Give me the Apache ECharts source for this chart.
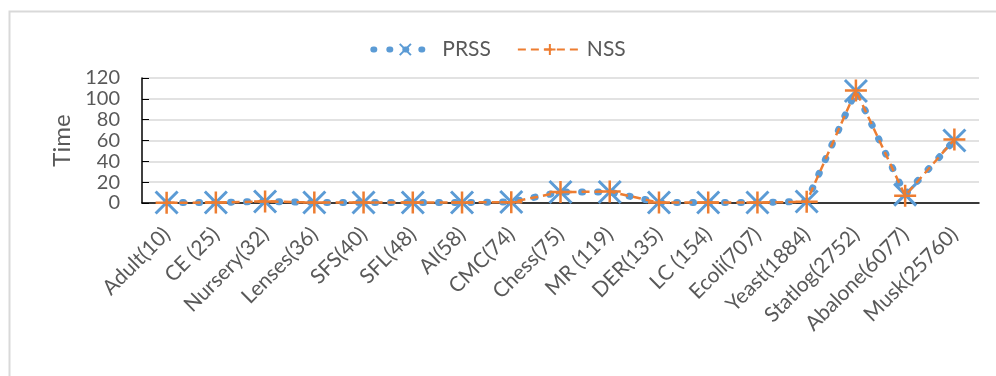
<!DOCTYPE html>
<html>
<head>
<meta charset="utf-8">
<script src="https://cdn.jsdelivr.net/npm/echarts@6/dist/echarts.min.js"></script>
<style>
html,body{margin:0;padding:0;background:#fff;}
#chart{width:996px;height:376px;}
</style>
</head>
<body>
<div id="chart"></div>
<script>
var categories = ['Adult(10)','CE (25)','Nursery(32)','Lenses(36)','SFS(40)','SFL(48)','AI(58)','CMC(74)','Chess(75)','MR (119)','DER(135)','LC (154)','Ecoli(707)','Yeast(1884)','Statlog(2752)','Abalone(6077)','Musk(25760)'];
var prss = [0.5,0.5,1.5,0.5,0.5,0.5,0.5,1,10.5,10.5,0.5,0.5,0.5,1.5,107.5,8,60];
var nss  = [0.3,0.4,1.5,0.4,0.4,0.4,0.5,0.8,10.5,11,0.4,0.4,0.4,1.2,108,7,61];
var yTicks = [0,20,40,60,80,100,120];

var FONT = 'Lato, "Open Sans", sans-serif';
var TXT = '#595959';
var BLUE = '#5B9BD5';
var ORANGE = '#ED7D31';

var chart = echarts.init(document.getElementById('chart'), null, {renderer:'canvas'});
chart.setOption({
  animation:false,
  backgroundColor:'#fff',
  graphic:[{
    type:'rect', left:7, top:9, silent:true,
    shape:{x:0,y:0,width:1100,height:500},
    style:{fill:'none', stroke:'#d9d9d9', lineWidth:2}
  }],
  legend:{
    top:34, left:'center',
    itemGap:26,
    itemHeight:14,
    textStyle:{fontFamily:FONT, fontSize:21, color:TXT},
    data:[
      {name:'PRSS', itemWidth:70, lineStyle:{width:6, cap:'round', type:[1,15]}},
      {name:'NSS', itemWidth:62}
    ],
    itemWidth:64
  },
  grid:{left:142, right:17, top:78, bottom:173, containLabel:false},
  xAxis:{
    type:'category',
    data:categories,
    boundaryGap:true,
    axisLine:{lineStyle:{color:'#000', width:1.5}},
    axisTick:{inside:true, length:8, lineStyle:{color:'#000', width:1}},
    axisLabel:{rotate:45, interval:0, margin:28, fontFamily:FONT, fontSize:21, color:TXT}
  },
  yAxis:{
    type:'value', min:0, max:120, interval:20,
    name:'Time', nameLocation:'middle', nameGap:68,
    nameTextStyle:{fontFamily:FONT, fontSize:24, color:TXT},
    axisLine:{show:true, lineStyle:{color:'#000', width:1.5}},
    axisTick:{show:true, inside:true, length:7, lineStyle:{color:'#000'}},
    axisLabel:{margin:22, fontFamily:FONT, fontSize:20, color:TXT,
      formatter:function(v){return yTicks.indexOf(v)>=0?String(v):'';}},
    splitLine:{lineStyle:{color:'#d9d9d9', width:1.5}}
  },
  series:[{
    name:'PRSS', type:'line', data:prss,
    symbol:'path://M0,0L20,20M20,0L0,20', symbolSize:22,
    itemStyle:{color:BLUE, borderColor:BLUE, borderWidth:3},
    lineStyle:{color:BLUE, width:7, type:[1,15], cap:'round'},
    emphasis:{disabled:true}, z:2
  },{
    name:'NSS', type:'line', data:nss,
    symbol:'path://M10,0L10,20M0,10L20,10', symbolSize:22,
    itemStyle:{color:ORANGE, borderColor:ORANGE, borderWidth:2.5},
    lineStyle:{color:ORANGE, width:2.5, type:[8,5]},
    emphasis:{disabled:true}, z:3
  }]
});
</script>
</body>
</html>
